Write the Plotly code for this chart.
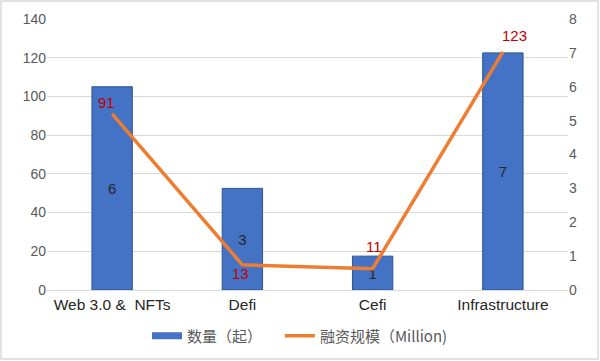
import plotly.graph_objects as go

categories = ["Web 3.0 &  NFTs", "Defi", "Cefi", "Infrastructure"]
counts = [6, 3, 1, 7]
funding = [91, 13, 11, 123]
# label offsets (pixels) for funding labels
label_dx = [-6, -2, 1, 12]
label_dy = [11, -9, 22, 16]

FONT = "Liberation Sans, Arial, Noto Sans CJK SC, sans-serif"
LEGEND_FONT = dict(size=15, color="#595959", family="Noto Sans CJK SC, Liberation Sans")

fig = go.Figure()
fig.add_trace(go.Bar(
    x=categories, y=counts, name="数量（起）", showlegend=False,
    marker=dict(color="#4472C4", line=dict(color="#2F528F", width=1)),
    text=[str(v) for v in counts], textposition="inside", insidetextanchor="middle",
    textfont=dict(color="#262626", size=15, family=FONT),
    width=0.31, yaxis="y",
))
# legend-only entry mimicking the wide bar swatch
fig.add_trace(go.Scatter(
    x=[None], y=[None], name="数量（起）", mode="lines",
    line=dict(color="#4472C4", width=7), yaxis="y", legend="legend",
))
fig.add_trace(go.Scatter(
    x=categories, y=funding, name="融资规模（Million)",
    mode="lines", line=dict(color="#ED7D31", width=3.5),
    yaxis="y2", legend="legend2",
))

annotations = [
    dict(x=c, y=v, xref="x", yref="y2", text=str(v), showarrow=False,
         xshift=dx, yshift=dy, font=dict(color="#C00000", size=15, family=FONT))
    for c, v, dx, dy in zip(categories, funding, label_dx, label_dy)
]

fig.update_layout(
    width=600, height=361,
    margin=dict(l=47, r=32, t=19, b=71, autoexpand=False),
    paper_bgcolor="white", plot_bgcolor="white",
    font=dict(family=FONT, size=13, color="#595959"),
    showlegend=True,
    legend=dict(orientation="h", x=0.192, xanchor="left", y=-0.17, yanchor="middle",
                font=LEGEND_FONT, itemwidth=30),
    legend2=dict(orientation="h", x=0.447, xanchor="left", y=-0.17, yanchor="middle",
                 font=LEGEND_FONT, itemwidth=30),
    xaxis=dict(showgrid=False, showline=True, linecolor="#D9D9D9", ticks="", automargin=False,
               tickfont=dict(size=15.5, color="#262626")),
    yaxis=dict(side="right", range=[0, 8], dtick=1, showgrid=False, zeroline=False, automargin=False,
               tickfont=dict(size=14, color="#595959")),
    yaxis2=dict(side="left", overlaying="y", range=[0, 140], dtick=20, showgrid=True, automargin=False,
                gridcolor="#D9D9D9", gridwidth=1, zeroline=False,
                tickfont=dict(size=14, color="#595959")),
    annotations=annotations,
    shapes=[dict(type="rect", xref="paper", yref="paper",
                 x0=-0.0883, x1=1.0576, y0=-0.2546, y1=1.0664,
                 line=dict(color="#D9D9D9", width=1.5))],
)

fig.write_html("out.html", config={"displayModeBar": False},
               post_script="document.body.style.margin='0';")
